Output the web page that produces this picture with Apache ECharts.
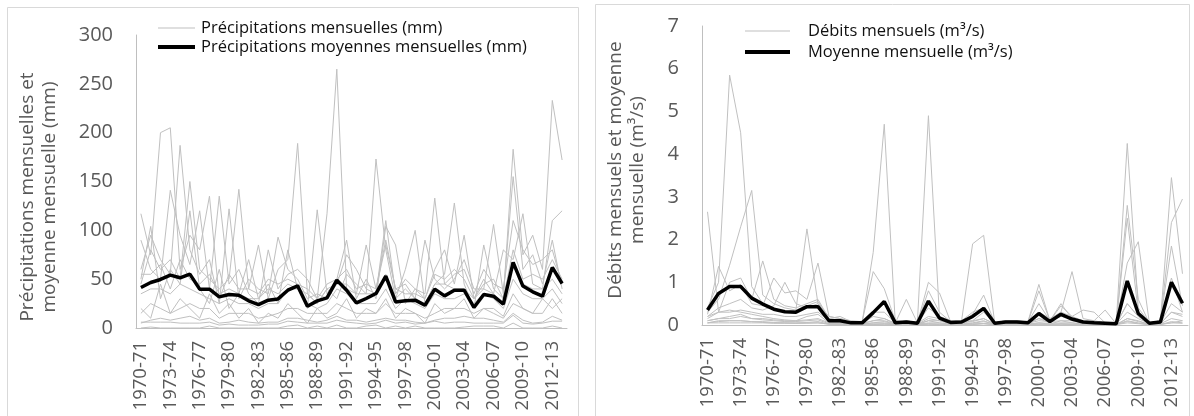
<!DOCTYPE html>
<html><head><meta charset="utf-8">
<script src="https://cdn.jsdelivr.net/npm/echarts@6/dist/echarts.min.js"></script>
<style>html,body{margin:0;padding:0;background:#fff}#c{width:1194px;height:416px}</style>
</head><body><div id="c"></div><script>
const categories = ['1970-71','1971-72','1972-73','1973-74','1974-75','1975-76','1976-77','1977-78','1978-79','1979-80','1980-81','1981-82','1982-83','1983-84','1984-85','1985-86','1986-87','1987-88','1988-89','1989-90','1990-91','1991-92','1992-93','1993-94','1994-95','1995-96','1996-97','1997-98','1998-99','1999-00','2000-01','2001-02','2002-03','2003-04','2004-05','2005-06','2006-07','2007-08','2008-09','2009-10','2010-11','2011-12','2012-13','2013-14'];

// Précipitations mensuelles (mm), one array per month
const pSep = [20,10,45,15,30,20,10,35,15,25, 10,20,5,15,10,25,15,5,20,10, 15,30,10,20,15,30,10,20,15,5, 25,15,20,30,10,20,15,10,25,20, 15,30,20,30];
const pOct = [50,104,30,60,45,120,40,25,60,20, 35,70,30,45,25,80,40,20,121,35, 50,90,30,50,30,104,85,25,40,30, 60,80,45,95,30,50,35,80,70,117, 45,40,110,120];
const pNov = [117,75,200,205,60,95,80,135,30,55, 40,40,85,30,60,70,189,35,25,40, 30,55,45,35,173,80,30,60,100,25, 45,55,128,45,20,85,40,30,183,75, 95,60,233,172];
const pDec = [90,60,50,141,95,65,120,40,135,45, 60,35,25,80,40,55,60,50,30,117, 265,40,35,85,40,90,40,45,30,90, 50,40,50,70,40,40,106,35,155,60, 75,45,90,40];
const pJan = [60,95,70,55,187,80,55,70,25,122, 30,50,40,35,93,60,50,30,35,30, 45,75,60,40,35,110,35,50,40,35, 133,45,55,60,35,60,45,40,110,80, 65,70,80,45];
const pFeb = [45,80,60,70,50,150,60,50,40,50, 142,40,35,50,45,50,45,40,30,45, 50,60,40,45,40,85,40,35,35,30, 55,50,60,50,30,45,50,30,80,50, 55,50,70,50];
const pMar = [55,55,65,40,70,50,45,55,35,40, 35,30,30,40,35,45,40,35,25,40, 45,45,35,35,35,55,30,40,30,25, 45,45,40,40,30,40,35,25,65,45, 40,40,50,35];
const pApr = [35,40,40,35,45,40,35,30,25,30, 25,25,20,25,25,40,40,25,20,25, 40,35,25,25,25,40,20,30,25,20, 35,30,30,35,25,35,30,20,50,35, 30,30,40,25];
const pMay = [15,25,20,15,20,25,20,20,10,15, 15,15,10,12,15,20,20,15,15,15, 25,20,15,15,15,25,15,15,15,10, 15,20,20,20,15,20,20,12,35,20, 15,15,30,15];
const pJun = [5,8,10,8,10,12,8,10,5,6, 8,6,5,6,6,10,10,8,6,8, 12,8,8,6,8,10,8,8,6,5, 8,10,10,12,10,10,8,6,15,8, 5,6,12,8];
const pJul = [0,1,0,0,0,0,0,2,0,0, 0,0,0,0,0,2,3,0,2,0, 3,0,0,2,3,0,2,0,2,0, 0,0,0,1,2,2,2,0,5,0, 0,0,2,0];
const pAug = [6,6,6,6,5,5,5,6,3,4, 3,3,3,4,4,7,6,5,5,5, 8,6,5,4,5,8,5,6,4,5, 7,5,6,6,5,5,5,5,13,5, 4,5,7,7];
const pMean = [41.5,46.6,49.7,54.2,51.4,55.2,39.8,39.8,31.9,34.3, 33.6,27.8,24,28.5,29.8,38.7,43.2,22.3,27.8,30.8, 49,38.7,25.7,30.2,35.3,53.1,26.7,27.8,28.5,23.3, 39.8,32.9,38.7,38.7,21,34.3,32.6,24.4,67.2,42.9, 37,32.6,62,45.6];

// Débits mensuels (m3/s), one array per month
const qSep = [0.05,0.08,0.1,0.1,0.08,0.06,0.05,0.05,0.04,0.05,0.05, 0.02,0.02,0.01,0.01,0.02,0.03,0.01,0.02,0.01,0.03,0.02, 0.01,0.02,0.02,0.03,0.01,0.02,0.02,0.01,0.02,0.01,0.03,0.02, 0.01,0.01,0.01,0.01,0.1,0.05,0.01,0.02,0.05,0.1];
const qOct = [0.1,0.15,0.2,0.25,0.15,0.12,0.1,0.08,0.08,0.1,0.12, 0.03,0.03,0.02,0.02,0.05,0.08,0.02,0.03,0.01,0.1,0.05, 0.02,0.02,0.05,0.1,0.01,0.02,0.03,0.02,0.05,0.02,0.1,0.05, 0.02,0.01,0.01,0.01,0.15,0.1,0.01,0.03,0.3,0.25];
const qNov = [0.2,0.3,0.35,0.3,0.25,0.2,0.15,0.12,0.1,0.2,0.25, 0.05,0.05,0.03,0.03,0.1,0.15,0.03,0.05,0.02,0.15,0.1, 0.03,0.05,0.1,0.15,0.02,0.05,0.05,0.03,0.15,0.05,0.3,0.1, 0.05,0.02,0.02,0.01,0.5,0.2,0.02,0.05,1.0,0.5];
const qDec = [2.65,0.3,1.0,1.1,0.6,1.5,0.6,0.45,0.4,0.5,0.6, 0.15,0.2,0.08,0.06,0.3,0.5,0.05,0.1,0.05,0.8,0.3, 0.08,0.1,0.3,0.4,0.05,0.1,0.1,0.06,0.5,0.1,0.45,0.2, 0.1,0.08,0.05,0.04,2.5,0.3,0.05,0.1,1.85,0.45];
const qJan = [0.4,1.0,5.85,4.5,0.9,0.5,0.4,0.3,0.35,2.25,0.5, 0.2,0.15,0.1,0.08,1.25,0.85,0.1,0.08,0.06,4.9,0.2, 0.1,0.08,0.25,0.7,0.05,0.08,0.1,0.07,0.95,0.1,0.5,0.15, 0.08,0.06,0.05,0.04,4.25,0.4,0.05,0.08,3.45,1.2];
const qFeb = [0.3,0.6,1.4,2.3,3.15,0.7,0.5,0.4,0.35,0.45,0.55, 0.15,0.12,0.06,0.07,1.7,4.7,0.05,0.1,0.05,1.0,0.75, 0.08,0.1,1.9,2.1,0.05,0.1,0.08,0.06,0.8,0.1,0.3,0.2, 0.35,0.3,0.05,0.04,2.8,0.6,0.04,0.08,2.4,2.95];
const qMar = [0.25,1.37,0.8,0.95,0.5,0.45,1.1,0.75,0.8,0.6,1.45, 0.2,0.15,0.05,0.06,0.3,0.3,0.05,0.6,0.05,0.4,0.2, 0.1,0.1,0.2,0.4,0.05,0.1,0.1,0.05,0.3,0.15,0.3,1.25, 0.15,0.1,0.05,0.03,1.45,1.95,0.05,0.1,1.1,0.3];
const qApr = [0.2,0.4,0.5,0.6,0.4,0.35,0.45,1.0,0.5,0.4,0.5, 0.12,0.1,0.04,0.05,0.2,0.15,0.04,0.05,0.04,0.2,0.15, 0.05,0.08,0.1,0.3,0.04,0.05,0.08,0.05,0.15,0.1,0.2,0.15, 0.05,0.1,0.35,0.03,0.5,0.2,0.04,0.05,0.5,0.3];
const qMay = [0.15,0.3,0.3,0.35,0.3,0.25,0.25,0.2,0.2,0.25,0.3, 0.1,0.08,0.03,0.04,0.1,0.1,0.03,0.03,0.03,0.1,0.1, 0.04,0.05,0.08,0.15,0.03,0.04,0.05,0.04,0.1,0.08,0.1,0.1, 0.04,0.05,0.03,0.02,0.3,0.15,0.03,0.04,0.3,0.2];
const qJun = [0.1,0.15,0.15,0.2,0.15,0.15,0.12,0.1,0.1,0.12,0.15, 0.05,0.05,0.02,0.02,0.05,0.05,0.02,0.02,0.02,0.05,0.05, 0.02,0.03,0.04,0.08,0.02,0.03,0.03,0.02,0.05,0.04,0.05,0.05, 0.02,0.03,0.02,0.01,0.15,0.08,0.02,0.03,0.15,0.1];
const qJul = [0.05,0.1,0.1,0.1,0.08,0.08,0.06,0.05,0.05,0.06,0.08, 0.02,0.02,0.01,0.01,0.02,0.02,0.01,0.01,0.01,0.02,0.02, 0.01,0.01,0.02,0.04,0.01,0.01,0.01,0.01,0.02,0.02,0.02,0.02, 0.01,0.01,0.01,0.01,0.08,0.04,0.01,0.01,0.08,0.05];
const qAug = [0.05,0.05,0.05,0.05,0.05,0.05,0.04,0.04,0.04,0.04,0.05, 0.02,0.01,0.01,0.01,0.01,0.02,0.01,0.01,0.01,0.02,0.01, 0.01,0.01,0.01,0.03,0.01,0.01,0.01,0.01,0.02,0.01,0.02,0.01, 0.01,0.01,0.01,0.01,0.05,0.03,0.01,0.01,0.05,0.04];
const qMean = [0.35,0.74,0.9,0.9,0.63,0.49,0.37,0.31,0.30,0.43, 0.43,0.10,0.10,0.05,0.05,0.29,0.55,0.05,0.07,0.04, 0.56,0.16,0.06,0.07,0.2,0.39,0.04,0.07,0.07,0.05, 0.27,0.08,0.25,0.14,0.07,0.05,0.04,0.03,1.03,0.27, 0.04,0.07,1.0,0.51];

const pTicks = {min:0, max:300, interval:50};
const qTicks = {min:0, max:7, interval:1};

const nameP = 'Précipitations mensuelles (mm)';
const nameP2 = 'Précipitations moyennes mensuelles (mm)';
const nameQ = 'Débits mensuels (m³/s)';
const nameQ2 = 'Moyenne mensuelle (m³/s)';

const FONT = 'Open Sans';
const grayColor = '#c0c0c0';

function gray(name, data, idx){
  return {type:'line', name, data, xAxisIndex:idx, yAxisIndex:idx, symbol:'none', silent:true, z:2,
    lineStyle:{color:grayColor, width:1}, itemStyle:{color:grayColor}, emphasis:{disabled:true}, animation:false};
}
function mean(name, data, idx){
  return {type:'line', name, data, xAxisIndex:idx, yAxisIndex:idx, symbol:'none', silent:true, z:3,
    lineStyle:{color:'#000', width:3.5}, itemStyle:{color:'#000'}, emphasis:{disabled:true}, animation:false};
}
const pMonths = [pSep,pOct,pNov,pDec,pJan,pFeb,pMar,pApr,pMay,pJun,pJul,pAug];
const qMonths = [qSep,qOct,qNov,qDec,qJan,qFeb,qMar,qApr,qMay,qJun,qJul,qAug];
const series = [];
pMonths.forEach(d => series.push(gray(nameP, d, 0)));
series.push(mean(nameP2, pMean, 0));
qMonths.forEach(d => series.push(gray(nameQ, d, 1)));
series.push(mean(nameQ2, qMean, 1));

function xAxis(idx){
  return {type:'category', gridIndex:idx, data:categories, boundaryGap:true,
    axisLine:{lineStyle:{color:'#bfbfbf', width:1}}, axisTick:{show:false},
    axisLabel:{interval:2, rotate:90, fontSize:18.5, color:'#595959', fontFamily:FONT, margin:13},
    splitLine:{show:false}};
}
function yAxis(idx, t){
  return {type:'value', gridIndex:idx, min:t.min, max:t.max, interval:t.interval,
    axisLine:{show:true, lineStyle:{color:'#bfbfbf', width:1}}, axisTick:{show:false},
    axisLabel:{fontSize:20, color:'#595959', fontFamily:FONT, margin:23},
    splitLine:{show:false}};
}
const thin37 = 'path://M0,0H37V1H0Z', thick37 = 'path://M0,0H37V4H0Z';
const thin45 = 'path://M0,0H45V1H0Z', thick45 = 'path://M0,0H45V4H0Z';

const chart = echarts.init(document.getElementById('c'), null, {renderer:'canvas'});
chart.setOption({
  animation:false,
  backgroundColor:'#fff',
  grid:[
    {left:136, top:35, width:431, height:293},
    {left:702, top:26, width:486, height:299}
  ],
  xAxis:[xAxis(0), xAxis(1)],
  yAxis:[yAxis(0,pTicks), yAxis(1,qTicks)],
  legend:[
    {data:[{name:nameP, icon:thin37}, {name:nameP2, icon:thick37}], orient:'vertical', left:158, top:18.5, padding:0, itemWidth:37, itemHeight:12, itemGap:0,
     selectedMode:false, textStyle:{fontSize:16.5, lineHeight:19, color:'#111', fontFamily:FONT, padding:[0,0,0,1]}},
    {data:[{name:nameQ, icon:thin45}, {name:nameQ2, icon:thick45}], orient:'vertical', left:745, top:20.5, padding:0, itemWidth:45, itemHeight:12, itemGap:0,
     selectedMode:false, textStyle:{fontSize:16.5, lineHeight:21, color:'#111', fontFamily:FONT, padding:[0,0,0,13]}}
  ],
  graphic:[
    {type:'rect', silent:true, shape:{x:7.5, y:7.5, width:571, height:420}, style:{fill:'none', stroke:'#d9d9d9', lineWidth:1}},
    {type:'rect', silent:true, shape:{x:595.5, y:4.5, width:594, height:420}, style:{fill:'none', stroke:'#d9d9d9', lineWidth:1}},
    {type:'text', silent:true, x:39, y:197, rotation:Math.PI/2,
     style:{text:'Précipitations mensuelles et\nmoyenne mensuelle (mm)', fontSize:19, fontFamily:FONT, fill:'#595959', align:'center', verticalAlign:'middle', lineHeight:22}},
    {type:'text', silent:true, x:627, y:170, rotation:Math.PI/2,
     style:{text:'Débits mensuels et moyenne\nmensuelle (m³/s)', fontSize:19, fontFamily:FONT, fill:'#595959', align:'center', verticalAlign:'middle', lineHeight:22}}
  ],
  series
});
</script></body></html>
